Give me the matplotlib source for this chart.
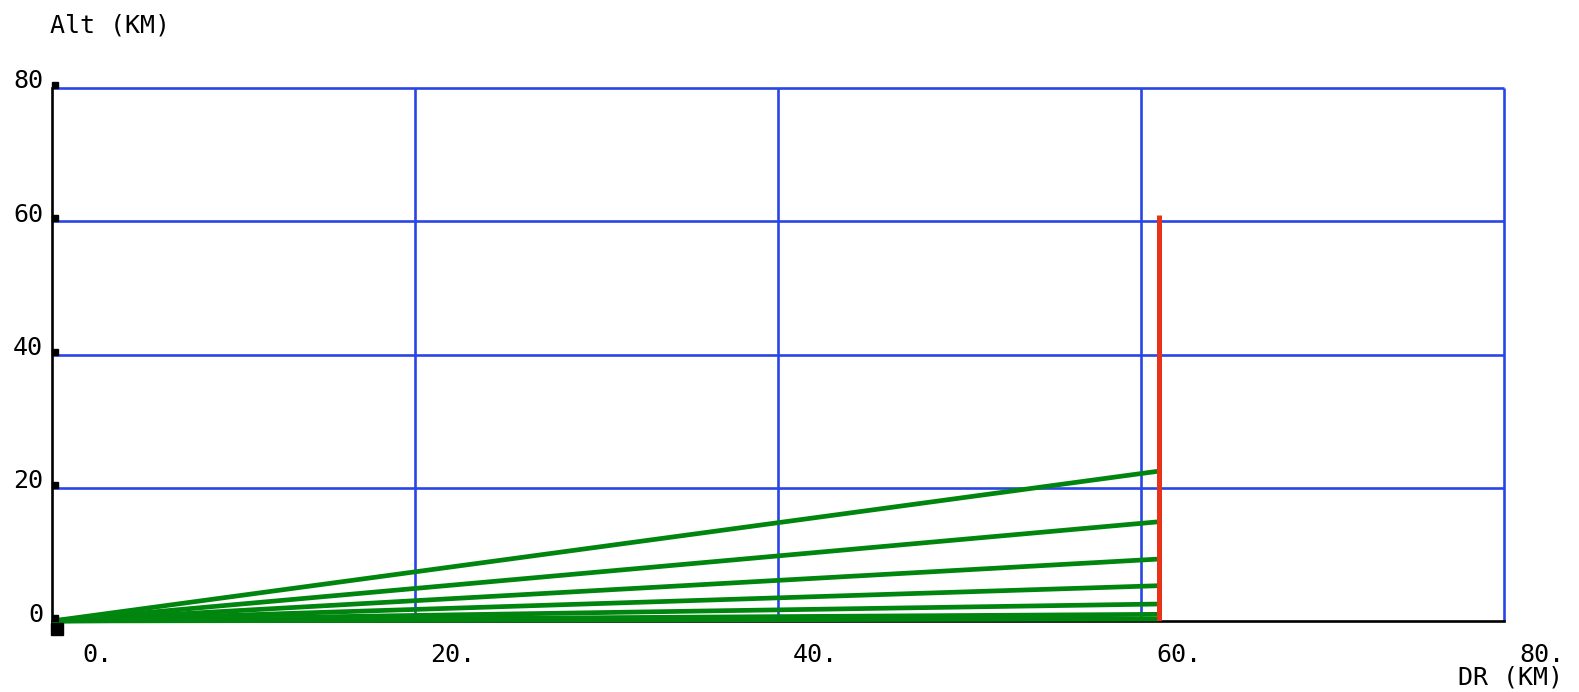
import matplotlib.pyplot as plt
from matplotlib.transforms import ScaledTranslation

# values
x_ticks = [0, 20, 40, 60, 80]
x_labels = ["0.", "20.", "40.", "60.", "80."]
y_ticks = [0, 20, 40, 60, 80]
y_labels = ["0", "20", "40", "60", "80"]

ray_range = 61.0  # km, where the rays stop
ray_alt_ends = [22.5, 14.9, 9.3, 5.3, 2.55, 1.0, 0.3]
marker_range = 61.0
marker_top = 61.0

BLUE = "#2a45e6"
GREEN = "#00860f"
RED = "#e8321a"
FONT = "DejaVu Sans Mono"

fig = plt.figure(figsize=(15.79, 6.92), dpi=100)
ax = fig.add_axes([52 / 1579, 71 / 692, 1452 / 1579, 533 / 692])
ax.set_xlim(x_ticks[0], x_ticks[-1])
ax.set_ylim(y_ticks[0], y_ticks[-1])

# grid (blue) except the zero lines, which are the black spines
ax.vlines(x_ticks[1:], y_ticks[0], y_ticks[-1], color=BLUE, lw=1.9, zorder=1, clip_on=False)
ax.hlines(y_ticks[1:], x_ticks[0], x_ticks[-1], color=BLUE, lw=1.9, zorder=1, clip_on=False)

for side in ["top", "right"]:
    ax.spines[side].set_visible(False)
for side in ["left", "bottom"]:
    ax.spines[side].set_color("black")
    ax.spines[side].set_linewidth(1.9)
    ax.spines[side].set_zorder(1.5)

for h in ray_alt_ends:
    ax.plot([0, ray_range], [0, h], color=GREEN, lw=3.4, solid_capstyle="butt",
            zorder=3, clip_on=False)
ax.plot([marker_range, marker_range], [0, marker_top], color=RED, lw=3.6,
        solid_capstyle="butt", zorder=4)

# ticks
ax.set_xticks(x_ticks, x_labels, fontfamily=FONT, fontsize=18)
ax.set_yticks(y_ticks, y_labels, fontfamily=FONT, fontsize=18)
ax.tick_params(axis="x", length=0, pad=15.5)
ax.tick_params(axis="y", length=0, pad=6.5)
for lab in ax.get_xticklabels():
    lab.set_horizontalalignment("right")
    lab.set_transform(lab.get_transform() + ScaledTranslation(0.60, 0, fig.dpi_scale_trans))
for lab in ax.get_yticklabels():
    lab.set_transform(lab.get_transform() + ScaledTranslation(0, 0.09, fig.dpi_scale_trans))

# small black tick squares on the y axis
ax.plot([0] * len(y_ticks), y_ticks, ls="none", marker="s", ms=4.3, color="black",
        transform=ax.transData + ScaledTranslation(0.03, 0.03, fig.dpi_scale_trans),
        clip_on=False, zorder=5)
ax.plot([0], [0], ls="none", marker="s", ms=8, color="black",
        transform=ax.transData + ScaledTranslation(0.05, -0.075, fig.dpi_scale_trans),
        clip_on=False, zorder=5)

fig.text(50 / 1579, 1 - 25 / 692, "Alt (KM)", ha="left", va="center",
         fontfamily=FONT, fontsize=18)
fig.text(1563 / 1579, 1 - 678 / 692, "DR (KM)", ha="right", va="center",
         fontfamily=FONT, fontsize=18)

fig.savefig("out.png", dpi=100)
